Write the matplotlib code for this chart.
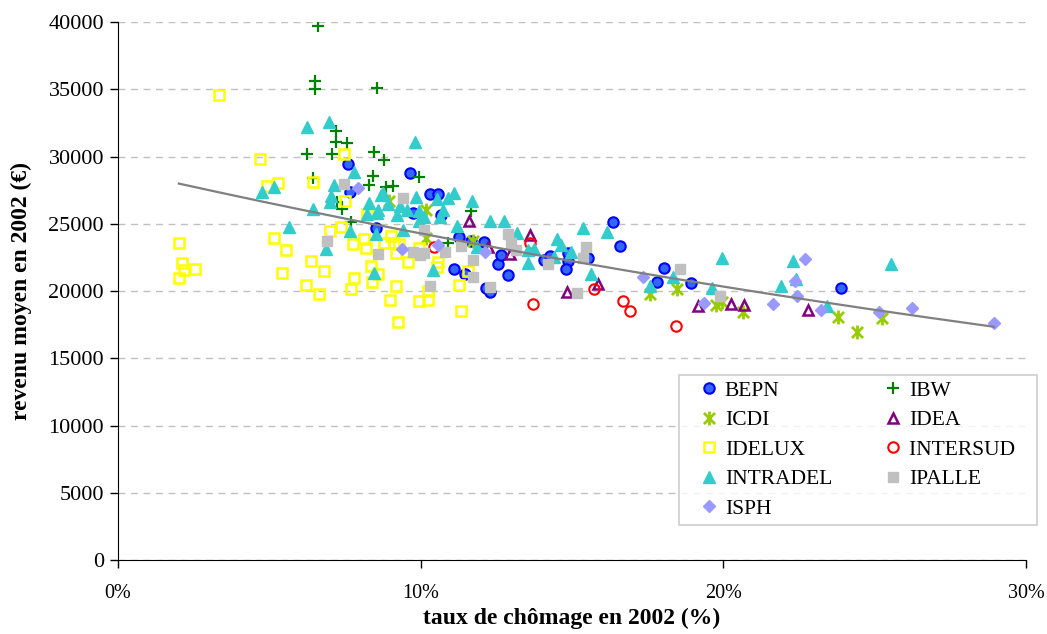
import numpy as np
import matplotlib
matplotlib.use("Agg")
import matplotlib.pyplot as plt
from matplotlib.path import Path

plt.rcParams['font.family'] = ['Liberation Serif', 'DejaVu Serif']

# taux de chômage (%) / revenu moyen (EUR) par intercommunale
bepn_x = [7.59, 7.66, 8.51, 9.64, 10.30, 10.56, 10.66, 9.74, 11.25, 11.65, 12.08, 11.09, 11.45, 12.15, 12.28,
          12.54, 12.64, 12.87, 14.06, 14.26, 14.88, 14.88, 14.79, 15.54, 16.37, 16.60, 17.82, 18.05, 18.94, 23.89]
bepn_y = [29490, 27400, 24720, 28820, 27250, 27250, 25690, 25840, 24050, 23750, 23680, 21670, 21300, 20250, 19960,
          22040, 22710, 21220, 22340, 22640, 22860, 22260, 21670, 22490, 25170, 23380, 20700, 21740, 20630, 20250]

ibw_x = [6.60, 6.50, 6.50, 8.55, 7.19, 7.19, 7.56, 6.24, 7.06, 8.45, 8.78, 8.42, 8.28, 8.84, 9.08, 6.44,
         7.23, 7.39, 7.69, 9.93, 11.65, 10.89]
ibw_y = [39690, 35590, 35000, 35070, 31940, 31120, 30980, 30160, 30160, 30310, 29780, 28590, 27920, 27770, 27850, 28440,
         26660, 26140, 25170, 28520, 25990, 23600]

icdi_x = [8.94, 10.17, 10.17, 11.72, 17.59, 18.48, 19.77, 19.97, 20.66, 23.80, 24.42, 25.25]
icdi_y = [26730, 26060, 23980, 23750, 19810, 20180, 18990, 19210, 18470, 18090, 16980, 18020]

idea_x = [11.58, 13.60, 12.94, 12.21, 14.82, 15.87, 19.17, 20.26, 20.69, 22.81]
idea_y = [25240, 24200, 22790, 23310, 19960, 20550, 18910, 19060, 18990, 18620]

idelux_x = [3.33, 4.69, 4.92, 5.28, 6.44, 7.46, 7.49, 2.01, 2.11, 2.18, 2.54, 2.01, 5.15, 5.54, 5.41, 6.20,
            6.63, 6.37, 6.80, 7.00, 7.36, 8.22, 7.76, 8.12, 8.18, 8.35, 8.58, 7.79, 7.69, 8.38, 8.98, 9.17,
            9.24, 9.01, 8.78, 9.11, 9.17, 9.27, 9.57, 9.93, 10.56, 10.53, 9.93, 10.23, 10.23, 11.25, 11.32, 11.55]
idelux_y = [34620, 29860, 27850, 28070, 28150, 30230, 26730, 23600, 22110, 21590, 21670, 21000, 23980, 23080, 21370, 20480,
            19810, 22260, 21520, 24500, 24800, 25760, 23530, 23900, 23230, 21890, 21300, 21000, 20180, 20700, 19360, 20400,
            17720, 24130, 23600, 23600, 22860, 23530, 22190, 23230, 22190, 21820, 19290, 19360, 20030, 20480, 18540, 21520]

intersud_x = [10.43, 13.60, 13.70, 15.71, 16.67, 16.93, 18.42]
intersud_y = [23310, 23600, 19060, 20180, 19290, 18540, 17420]

intradel_x = [6.24, 6.96, 9.80, 7.79, 4.75, 5.15, 7.13, 7.03, 7.00, 6.44, 8.28, 8.22, 8.55, 8.68, 8.91, 9.21,
              5.64, 7.66, 8.51, 6.86, 8.45, 8.75, 9.31, 9.54, 9.83, 10.53, 11.09, 10.89, 10.73, 10.10, 9.93, 9.93,
              10.63, 9.41, 11.19, 11.68, 12.28, 12.74, 13.17, 11.85, 10.40, 13.53, 13.73, 13.56, 14.49, 14.65, 14.95,
              14.42, 15.35, 16.17, 15.64, 17.56, 18.32, 19.97, 19.64, 21.91, 22.31, 22.41, 23.43, 25.54, 8.58]
intradel_y = [32240, 32610, 31120, 28890, 27400, 27770, 27920, 27100, 26660, 26140, 26580, 25760, 25840, 27180, 26510, 25690,
              24800, 24500, 24270, 23160, 21370, 27330, 26360, 26060, 27030, 26880, 27330, 26950, 26060, 25540, 25990, 25240,
              25540, 24570, 24870, 26730, 25240, 25240, 24350, 23310, 21590, 23080, 23160, 22110, 23900, 23460, 22930,
              22560, 24720, 24420, 21300, 20400, 21070, 22490, 20250, 20400, 22260, 20920, 18910, 22040, 26060]

ipalle_x = [7.46, 9.41, 6.90, 8.58, 10.10, 9.74, 9.97, 10.10, 10.79, 11.32, 11.72, 10.30, 11.72, 12.28, 12.87,
            13.00, 13.14, 14.19, 15.18, 15.45, 15.35, 18.58, 19.90]
ipalle_y = [28000, 26950, 23750, 22790, 24570, 22930, 22710, 22860, 22930, 23380, 22340, 20400, 21070, 20330, 24270,
            23600, 23080, 22040, 19880, 23310, 22490, 21670, 19660]

isph_x = [7.92, 9.37, 10.56, 12.11, 17.33, 19.37, 21.65, 22.38, 22.44, 22.71, 23.23, 25.15, 26.24, 28.94]
isph_y = [27700, 23160, 23460, 22930, 21070, 19140, 19060, 20770, 19660, 22410, 18620, 18470, 18760, 17650]

# marqueur "étoile" Excel : X + trait vertical
star = Path([(0, -1), (0, 1), (-0.8, -0.8), (0.8, 0.8), (-0.8, 0.8), (0.8, -0.8)],
            [Path.MOVETO, Path.LINETO, Path.MOVETO, Path.LINETO, Path.MOVETO, Path.LINETO])

series = [
    ("BEPN", bepn_x, bepn_y, dict(marker='o', ms=7.5, mfc='#3366ff', mec='#0000ff', mew=1.5)),
    ("IBW", ibw_x, ibw_y, dict(marker='+', ms=9, color='#008000', mew=1.6)),
    ("ICDI", icdi_x, icdi_y, dict(marker=star, ms=10, color='#99cc00', mew=2)),
    ("IDEA", idea_x, idea_y, dict(marker='^', ms=7.5, mfc='none', mec='#800080', mew=1.8)),
    ("IDELUX", idelux_x, idelux_y, dict(marker='s', ms=7.5, mfc='none', mec='#ffff00', mew=1.8)),
    ("INTERSUD", intersud_x, intersud_y, dict(marker='o', ms=7.5, mfc='none', mec='#ff0000', mew=1.5)),
    ("INTRADEL", intradel_x, intradel_y, dict(marker='^', ms=8.5, color='#33cccc')),
    ("IPALLE", ipalle_x, ipalle_y, dict(marker='s', ms=7.5, color='#c0c0c0')),
    ("ISPH", isph_x, isph_y, dict(marker='D', ms=6, color='#9999ff')),
]

fig = plt.figure(figsize=(10.47, 6.34), dpi=100)
ax = fig.add_axes([0.1127, 0.1167, 0.8673, 0.8483])

handles = {}
for name, xs, ys, style in series:
    h, = ax.plot(xs, ys, ls='none', label=name, zorder=2, **style)
    handles[name] = h

# courbe de tendance exponentielle (moindres carrés sur ln y)
all_x = np.concatenate([np.array(s[1]) for s in series])
all_y = np.concatenate([np.array(s[2]) for s in series])
b, ln_a = np.polyfit(all_x, np.log(all_y), 1)
tx = np.linspace(all_x.min(), all_x.max(), 200)
ax.plot(tx, np.exp(ln_a + b * tx), color='#808080', lw=1.6, zorder=3)

ax.set_xlim(0, 30)
ax.set_ylim(0, 40000)
ax.set_xticks([0, 10, 20, 30])
ax.set_xticklabels(['0%', '10%', '20%', '30%'])
ax.set_yticks(np.arange(0, 40001, 5000))
ax.tick_params(axis='both', direction='out', length=6, width=1)
ax.tick_params(axis='x', pad=11, labelsize=14.5)
ax.tick_params(axis='y', pad=4, labelsize=16)
ax.yaxis.grid(True, color='#c0c0c0', linestyle=(0, (5, 4)), lw=1)
ax.set_axisbelow(True)
for side in ('top', 'right'):
    ax.spines[side].set_visible(False)

ax.set_xlabel('taux de chômage en 2002 (%)', fontsize=17, fontweight='bold', labelpad=4)
ax.set_ylabel('revenu moyen en 2002 (€)', fontsize=17, fontweight='bold', labelpad=12)

order = ["BEPN", "ICDI", "IDELUX", "INTRADEL", "ISPH", "IBW", "IDEA", "INTERSUD", "IPALLE"]
# espaces insécables en fin d'étiquette pour la marge droite du cadre
labels = [n + ('\u00a0\u00a0\u00a0' if n == "INTERSUD" else '') for n in order]
leg = ax.legend([handles[n] for n in order], labels, ncol=2, loc='lower right',
                bbox_to_anchor=(1.012, 0.065), borderaxespad=0, fontsize=15.5, frameon=True,
                fancybox=False, edgecolor='#c0c0c0', handletextpad=-0.35, columnspacing=1.7,
                labelspacing=0.44, borderpad=0.28, handlelength=2.2, numpoints=1)
leg.get_frame().set_linewidth(1.2)

fig.savefig('out.png', dpi=100)
